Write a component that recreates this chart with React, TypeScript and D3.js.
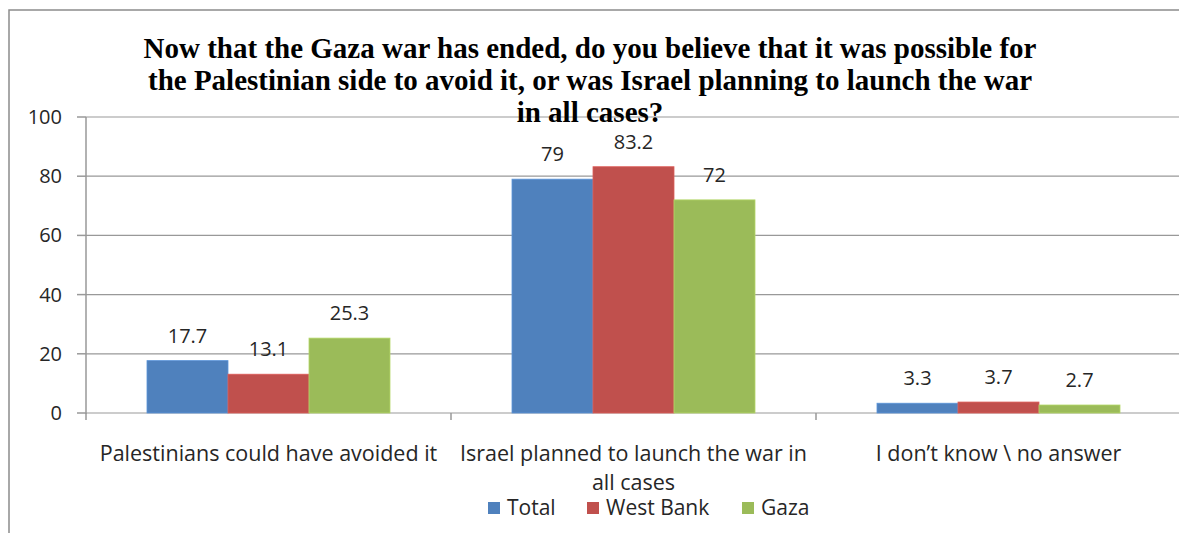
import * as d3 from 'd3';

const title = [
  'Now that the Gaza war has ended, do you believe that it was possible for',
  'the Palestinian side to avoid it, or was Israel planning to launch the war',
  'in all cases?',
];
const categories = [
  'Palestinians could have avoided it',
  'Israel planned to launch the war in\nall cases',
  'I don\u2019t know \\ no answer',
];
const seriesNames = ['Total', 'West Bank', 'Gaza'];
const total = [17.7, 79, 3.3];
const westBank = [13.1, 83.2, 3.7];
const gaza = [25.3, 72, 2.7];
const yTicks = [0, 20, 40, 60, 80, 100];
const colors = ['#4F81BD', '#C0504D', '#9BBB59'];

const W = 1179;
const H = 533;
const plot = { left: 86, right: 1181, top: 117, bottom: 413 };
const sansFont = '"Open Sans", Lato, sans-serif';

export default function App() {
  const series = [total, westBank, gaza];

  const x0 = d3
    .scaleBand<number>()
    .domain(categories.map((_, i) => i))
    .range([plot.left, plot.right])
    .paddingInner(0)
    .paddingOuter(0);

  const groupW = x0.bandwidth() * (243 / 365);
  const x1 = d3
    .scaleBand<number>()
    .domain(seriesNames.map((_, i) => i))
    .range([0, groupW])
    .padding(0);

  const y = d3.scaleLinear().domain([0, 100]).range([plot.bottom, plot.top]);

  const groupOffset = (x0.bandwidth() - groupW) / 2;
  const legendX = [488, 587, 742];

  return (
    <svg
      width={W}
      height={H}
      style={{ position: 'absolute', left: 0, top: 0, display: 'block', background: '#fff' }}
    >
      {/* outer chart frame, cropped at right/bottom */}
      <rect x={9} y={10} width={W + 20} height={H + 20} fill="#fff" stroke="#8c8c8c" strokeWidth={1.5} />

      {/* gridlines */}
      {yTicks.map((t) => (
        <line
          key={'g' + t}
          x1={plot.left}
          x2={plot.right}
          y1={y(t)}
          y2={y(t)}
          stroke="#999"
          strokeWidth={1.2}
        />
      ))}

      {/* y axis */}
      <line x1={plot.left} x2={plot.left} y1={plot.top} y2={plot.bottom + 1} stroke="#999" strokeWidth={1.5} />
      {yTicks.map((t) => (
        <g key={'yt' + t}>
          <line x1={plot.left - 9} x2={plot.left} y1={y(t)} y2={y(t)} stroke="#999" strokeWidth={1.5} />
          <text
            x={62}
            y={y(t)}
            dy="0.35em"
            textAnchor="end"
            fontFamily={sansFont}
            fontSize={20}
            fill="#262626"
          >
            {t}
          </text>
        </g>
      ))}

      {/* x ticks */}
      {[0, 1, 2, 3].map((i) => {
        const xx = i < 3 ? x0(i)! : plot.right;
        return (
          <line key={'xt' + i} x1={xx} x2={xx} y1={plot.bottom} y2={plot.bottom + 7} stroke="#999" strokeWidth={1.5} />
        );
      })}

      {/* bars */}
      {categories.map((_, ci) => (
        <g key={'c' + ci} transform={`translate(${x0(ci)! + groupOffset},0)`}>
          {series.map((s, si) => (
            <g key={'b' + si}>
              <rect
                x={x1(si)!}
                y={y(s[ci])}
                width={x1.bandwidth()}
                height={plot.bottom - y(s[ci])}
                fill={colors[si]}
                stroke={d3.color(colors[si])!.brighter(0.4).formatHex()}
                strokeWidth={0.8}
              />
              <text
                x={x1(si)! + x1.bandwidth() / 2}
                y={y(s[ci]) - 18}
                textAnchor="middle"
                fontFamily={sansFont}
                fontSize={20}
                fill="#262626"
              >
                {s[ci]}
              </text>
            </g>
          ))}
        </g>
      ))}

      {/* category labels */}
      {categories.map((c, ci) =>
        c.split('\n').map((line, li) => (
          <text
            key={'cl' + ci + li}
            x={x0(ci)! + x0.bandwidth() / 2}
            y={453 + li * 29}
            dy="0.35em"
            textAnchor="middle"
            fontFamily={sansFont}
            fontSize={21.5}
            fill="#262626"
          >
            {line}
          </text>
        ))
      )}

      {/* legend */}
      {seriesNames.map((n, i) => (
        <g key={'l' + i} transform={`translate(${legendX[i]},508)`}>
          <rect x={0} y={-6} width={12} height={12} fill={colors[i]} />
          <text x={19} y={0} dy="0.35em" fontFamily={sansFont} fontSize={21} fill="#262626">
            {n}
          </text>
        </g>
      ))}

      {/* title */}
      {title.map((t, i) => (
        <text
          key={'t' + i}
          x={590}
          y={48 + i * 32}
          dy="0.35em"
          textAnchor="middle"
          fontFamily='"Liberation Serif", "DejaVu Serif", serif'
          fontWeight="bold"
          fontSize={29}
          fill="#000"
        >
          {t}
        </text>
      ))}
    </svg>
  );
}
